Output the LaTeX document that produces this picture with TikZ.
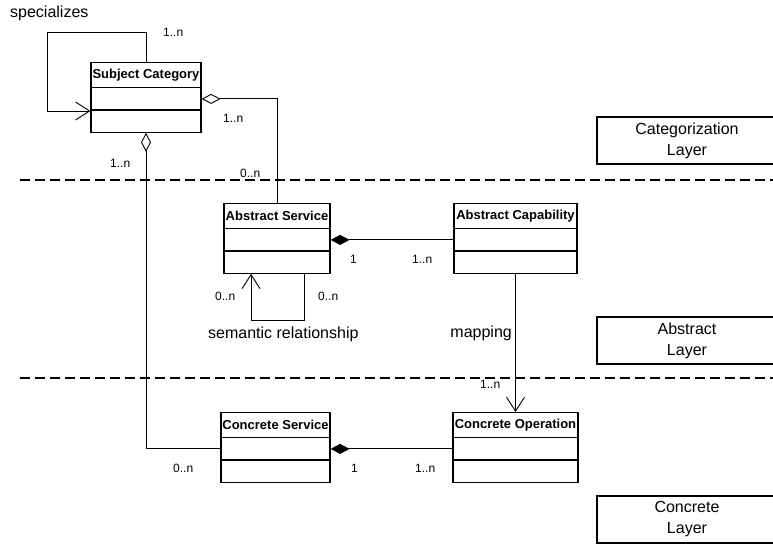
\documentclass[tikz,border=0pt]{standalone}
\usepackage{fontspec}
\setmainfont{Liberation Sans}
\usetikzlibrary{arrows.meta,positioning,shapes.multipart}

\newcommand{\clstitle}[2]{\parbox[c][24pt][c]{#1}{\centering\fontsize{13}{15}\selectfont\bfseries #2}}
\newcommand{\clsfield}[1]{\parbox[c][21pt][c]{#1}{\mbox{}}}

\begin{document}
\begin{tikzpicture}[
    x=1pt,
    y=-1pt,
    line join=miter,
    font=\fontsize{16}{21}\selectfont,
    classbox/.style={
        draw,
        line width=1.2pt,
        rectangle split,
        rectangle split parts=3,
        inner sep=0pt,
        anchor=north
    },
    layerbox/.style={
        draw,
        line width=1.1pt,
        rectangle,
        minimum width=180pt,
        minimum height=47pt,
        align=center
    },
    mult/.style={font=\fontsize{12}{14}\selectfont, inner sep=0pt, anchor=base west},
    caption/.style={inner sep=0pt, anchor=base west},
    assoc/.style={line width=0.9pt},
    openarr/.style={assoc, -{Straight Barb[length=14pt,width=18pt]}},
    aggr/.style={assoc, {Diamond[open,length=19pt,width=10pt]}-},
    compo/.style={assoc, {Diamond[length=19pt,width=10pt]}-},
    layersep/.style={line width=2.5pt, dash pattern=on 10pt off 5pt}
]
\useasboundingbox (0,0) rectangle (773,545);

% =========================
% Layer separators
% =========================
\draw[layersep] (20,180) -- (773,180);
\draw[layersep] (20,378) -- (773,378);

% =========================
% Classes
% =========================
\node[classbox] (sc) at (146,62)
    {\clstitle{110pt}{Subject Category}\nodepart{two}\clsfield{110pt}\nodepart{three}\clsfield{110pt}};

\node[classbox] (as) at (277,203)
    {\clstitle{106pt}{Abstract Service}\nodepart{two}\clsfield{106pt}\nodepart{three}\clsfield{106pt}};

\node[classbox] (ac) at (515.5,203)
    {\clstitle{123pt}{Abstract Capability}\nodepart{two}\clsfield{123pt}\nodepart{three}\clsfield{123pt}};

\node[classbox] (cs) at (275.5,412)
    {\clstitle{109pt}{Concrete Service}\nodepart{two}\clsfield{109pt}\nodepart{three}\clsfield{109pt}};

\node[classbox] (co) at (515.5,412)
    {\clstitle{125pt}{Concrete Operation}\nodepart{two}\clsfield{125pt}\nodepart{three}\clsfield{125pt}};

% =========================
% Layers
% =========================
\node[layerbox] (catlayer) at (687,140.5) {Categorization\\Layer};
\node[layerbox] (abslayer) at (687,340.5) {Abstract\\Layer};
\node[layerbox] (conlayer) at (687,519.5) {Concrete\\Layer};

% =========================
% Relations
% =========================
\coordinate (scloop) at (47,111);
\draw[openarr] (sc.north) -- ++(0,-30) -| (scloop) -- (scloop -| sc.west);
\node[caption] (spec) at (10,18) {specializes};
\node[mult] (scloopm) at (163,37) {1..n};

\draw[aggr] (sc.two east) -| (as.north);
\node[mult] (scasm) at (223,123) {1..n};
\node[mult] (assc) at (240,178) {0..n};

\draw[aggr] (sc.south) |- (cs.two west);
\node[mult] (sccsm) at (110,168) {1..n};
\node[mult] (cssc) at (173,472) {0..n};

\draw[compo] (as.two east) -- (ac.two west);
\node[mult] (asacm) at (350,263) {1};
\node[mult] (acasm) at (412,263) {1..n};

\draw[openarr] ([xshift=27pt]as.south) -- ++(0,47) -| ([xshift=-26pt]as.south);
\node[mult] (asloopl) at (215,300) {0..n};
\node[mult] (asloopr) at (318,300) {0..n};
\node[caption] (semrel) at (208,338) {semantic relationship};

\draw[openarr] (ac.south) -- (co.north);
\node[caption, anchor=base east] (mapping) at (512,337) {mapping};
\node[mult] (coacm) at (480,388) {1..n};

\draw[compo] (cs.two east) -- (co.two west);
\node[mult] (cscom) at (351,472) {1};
\node[mult] (cocsm) at (415,472) {1..n};

\end{tikzpicture}
\end{document}
